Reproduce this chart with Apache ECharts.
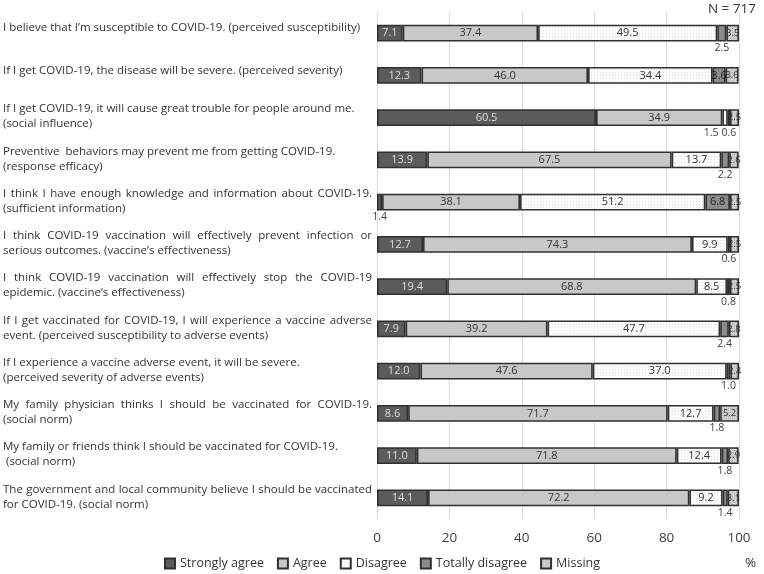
<!DOCTYPE html>
<html><head><meta charset="utf-8">
<script src="https://cdn.jsdelivr.net/npm/echarts@6/dist/echarts.min.js"></script>
<style>html,body{margin:0;padding:0;background:#fff}#c{width:764px;height:574px}</style>
</head><body><div id="c"></div>
<script>
const categories = [
  "I believe that I\u2019m susceptible to COVID-19. (perceived susceptibility)",
  "If I get COVID-19, the disease will be severe. (perceived severity)",
  "If I get COVID-19, it will cause great trouble for people around me.\n(social influence)",
  "Preventive  behaviors may prevent me from getting COVID-19.\n(response efficacy)",
  "I think I have enough knowledge and information about COVID-19.\n(sufficient information)",
  "I think COVID-19 vaccination will effectively prevent infection or\nserious outcomes. (vaccine\u2019s effectiveness)",
  "I think COVID-19 vaccination will effectively stop the COVID-19\nepidemic. (vaccine\u2019s effectiveness)",
  "If I get vaccinated for COVID-19, I will experience a vaccine adverse\nevent. (perceived susceptibility to adverse events)",
  "If I experience a vaccine adverse event, it will be severe.\n(perceived severity of adverse events)",
  "My family physician thinks I should be vaccinated for COVID-19.\n(social norm)",
  "My family or friends think I should be vaccinated for COVID-19.\n (social norm)",
  "The government and local community believe I should be vaccinated\nfor COVID-19. (social norm)"
];
// rows whose first line is justified in the original layout
const justifiedRows = [4, 5, 6, 7, 9, 11];
const seriesNames = ["Strongly agree", "Agree", "Disagree", "Totally disagree", "Missing"];
const stronglyAgree = [7.1, 12.3, 60.5, 13.9, 1.4, 12.7, 19.4, 7.9, 12.0, 8.6, 11.0, 14.1];
const agree = [37.4, 46.0, 34.9, 67.5, 38.1, 74.3, 68.8, 39.2, 47.6, 71.7, 71.8, 72.2];
const disagree = [49.5, 34.4, 1.5, 13.7, 51.2, 9.9, 8.5, 47.7, 37.0, 12.7, 12.4, 9.2];
const totallyDisagree = [2.5, 3.6, 0.6, 2.2, 6.8, 0.6, 0.8, 2.4, 1.0, 1.8, 1.8, 1.4];
const missing = [3.5, 3.6, 2.5, 2.6, 2.5, 2.5, 2.5, 2.8, 2.4, 5.2, 2.9, 3.1];
const xTicks = [0, 20, 40, 60, 80, 100];
const sampleNote = "N = 717";
const unitLabel = "%";

const FONT_FAMILY = '"Open Sans", "Noto Sans", sans-serif';
const LABEL_SIZE = 11.5;
const JUSTIFY_WIDTH = 369;

function makePattern(kind) {
  const c = document.createElement('canvas');
  const g = c.getContext('2d');
  if (kind === 'dots') {
    c.width = 3; c.height = 3;
    g.fillStyle = '#fcfcfc'; g.fillRect(0, 0, 3, 3);
    g.fillStyle = '#e0e0e0'; g.fillRect(0, 0, 1, 1);
  } else {
    c.width = 4; c.height = 4;
    g.fillStyle = '#d2d2d2'; g.fillRect(0, 0, 4, 4);
    g.fillStyle = '#a6a6a6';
    g.fillRect(0, 0, 1, 1); g.fillRect(2, 2, 1, 1);
    g.fillStyle = '#bcbcbc';
    g.fillRect(2, 0, 1, 1); g.fillRect(0, 2, 1, 1);
  }
  return { image: c, repeat: 'repeat' };
}

// build rich-text label strings (justified first lines, shift for single lines)
const measureCtx = document.createElement('canvas').getContext('2d');
measureCtx.font = LABEL_SIZE + 'px ' + FONT_FAMILY;
const richStyles = {
  s: { padding: [0, 0, 8, 0] }
};
const labelTexts = categories.map((cat, idx) => {
  const lines = cat.split('\n');
  if (lines.length === 1) return '{s|' + lines[0] + '}';
  if (justifiedRows.indexOf(idx) >= 0) {
    const words = lines[0].split(' ').filter(w => w.length);
    const wordsW = words.reduce((a, w) => a + measureCtx.measureText(w).width, 0);
    const gap = Math.max(2, (JUSTIFY_WIDTH - wordsW) / (words.length - 1));
    const key = 'g' + idx;
    richStyles[key] = { width: gap };
    lines[0] = words.join('{' + key + '| }');
  }
  return lines.join('\n');
});

const fills = ['#5b5b5b', '#c8c8c8', makePattern('dots'), '#8c8c8c', makePattern('hatch')];
const insideColors = ['#dedede', '#333333', '#333333', '#222222', '#333333'];
const allValues = [stronglyAgree, agree, disagree, totallyDisagree, missing];
// label offsets (style only) for crowded small segments shown below the bar
const belowOffsets = { '2-2': [-14, 0], '0-4': [4, 0] };

function buildData(si) {
  return allValues[si].map((v, i) => {
    const below = si !== 4 && v < 3;
    const item = { value: v };
    if (below) {
      item.label = {
        position: 'bottom', distance: 1, color: '#404040', fontSize: 10.5,
        offset: belowOffsets[i + '-' + si] || [0, 0]
      };
    }
    return item;
  });
}

const chart = echarts.init(document.getElementById('c'), null, { renderer: 'canvas' });

chart.setOption({
  animation: false,
  textStyle: { fontFamily: FONT_FAMILY },
  grid: { left: 377, right: 25, top: 12, bottom: 55, containLabel: false },
  title: [
    { text: sampleNote, right: 3, top: -3, textStyle: { fontSize: 13.5, fontWeight: 'normal', color: '#333', fontFamily: FONT_FAMILY } },
    { text: unitLabel, left: 740, top: 551, textStyle: { fontSize: 13.5, fontWeight: 'normal', color: '#333', fontFamily: FONT_FAMILY } }
  ],
  legend: {
    bottom: -1, left: 'center', itemWidth: 10, itemHeight: 10, itemGap: 13,
    icon: 'rect',
    textStyle: { fontSize: 12.5, color: '#333', fontFamily: FONT_FAMILY },
    data: seriesNames
  },
  xAxis: {
    type: 'value', min: 0, max: 100, interval: 20,
    axisLine: { show: false }, axisTick: { show: false },
    splitLine: { lineStyle: { color: '#dadada', width: 1 } },
    axisLabel: { fontSize: 13.5, color: '#404040', margin: 12, fontFamily: FONT_FAMILY,
      formatter: v => xTicks.indexOf(v) >= 0 ? String(v) : '' }
  },
  yAxis: {
    type: 'category', inverse: true, data: categories,
    axisLine: { show: false }, axisTick: { show: false },
    axisLabel: {
      align: 'left', margin: 374, fontSize: LABEL_SIZE, color: '#333', lineHeight: 15,
      fontFamily: FONT_FAMILY, padding: [0, 0, 2, 0],
      formatter: (val, idx) => labelTexts[idx],
      rich: richStyles
    }
  },
  series: seriesNames.map((name, si) => ({
    name, type: 'bar', stack: 'all', barWidth: '40%',
    itemStyle: { color: fills[si], borderColor: '#303030', borderWidth: 1.6 },
    label: {
      show: true, position: 'inside', color: insideColors[si],
      fontSize: si === 4 ? 9.5 : 11, fontFamily: FONT_FAMILY,
      formatter: p => p.value.toFixed(1)
    },
    data: buildData(si)
  }))
});
</script></body></html>
